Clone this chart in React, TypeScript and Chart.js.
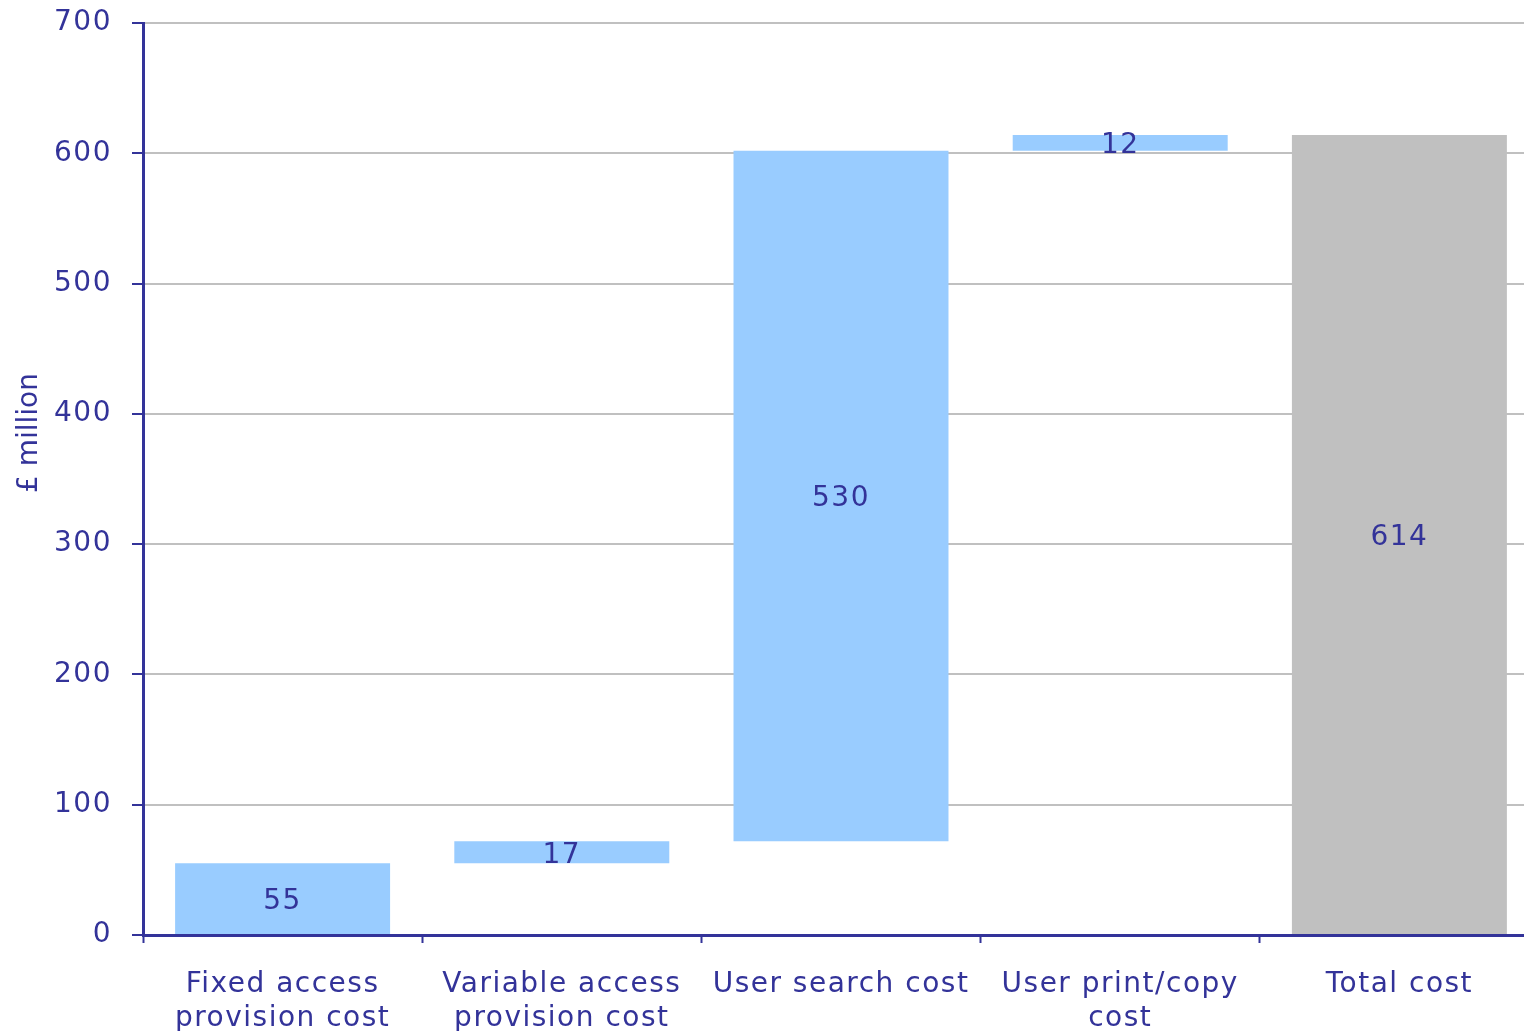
import React, { useEffect, useRef } from "react";
import { Chart, registerables } from "chart.js";

Chart.register(...registerables);

const categories: string[][] = [
  ["Fixed access", "provision cost"],
  ["Variable access", "provision cost"],
  ["User search cost"],
  ["User print/copy", "cost"],
  ["Total cost"],
];
const bases: number[] = [0, 55, 72, 602, 0];
const values: number[] = [55, 17, 530, 12, 614];
const barColors: string[] = ["#99CCFF", "#99CCFF", "#99CCFF", "#99CCFF", "#C0C0C0"];
const yTicks: number[] = [0, 100, 200, 300, 400, 500, 600, 700];
const yTitle = "£ million";

const TEXT = "#333399";
const FONT_FAMILY = '"DejaVu Sans", Verdana, sans-serif';
const LS = "1.5px";

const spacingPlugin = {
  id: "spacing",
  beforeUpdate(chart: any) {
    chart.ctx.letterSpacing = LS;
  },
  beforeLayout(chart: any) {
    chart.ctx.letterSpacing = LS;
  },
  beforeDraw(chart: any) {
    chart.ctx.letterSpacing = LS;
  },
};

const labelPlugin = {
  id: "valueLabels",
  afterDatasetsDraw(chart: any) {
    const ctx = chart.ctx;
    const meta = chart.getDatasetMeta(0);
    ctx.save();
    ctx.letterSpacing = LS;
    ctx.font = `28px ${FONT_FAMILY}`;
    ctx.fillStyle = TEXT;
    ctx.textAlign = "center";
    ctx.textBaseline = "middle";
    meta.data.forEach((el: any, i: number) => {
      const cy = (el.y + el.base) / 2 + 3;
      ctx.fillText(String(values[i]), el.x, cy);
    });
    ctx.restore();
    // y axis title
    ctx.save();
    ctx.letterSpacing = "0px";
    ctx.font = `28px ${FONT_FAMILY}`;
    ctx.fillStyle = TEXT;
    ctx.textAlign = "center";
    ctx.textBaseline = "middle";
    ctx.translate(30, 433);
    ctx.rotate(-Math.PI / 2);
    ctx.fillText(yTitle, 0, 0);
    ctx.restore();
  },
};

export default function App() {
  const ref = useRef<HTMLCanvasElement | null>(null);
  useEffect(() => {
    if (!ref.current) return;
    const chart = new Chart(ref.current, {
      type: "bar",
      data: {
        labels: categories,
        datasets: [
          {
            data: bases.map((b, i) => [b, b + values[i]]) as any,
            backgroundColor: barColors,
            borderWidth: 0,
            barPercentage: 0.77,
            categoryPercentage: 1,
          },
        ],
      },
      options: {
        animation: false,
        responsive: false,
        devicePixelRatio: 1,
        layout: { padding: { top: 23, right: 0, left: 0, bottom: 0 } },
        plugins: {
          legend: { display: false },
          tooltip: { enabled: false },
          title: { display: false },
        },
        scales: {
          x: {
            offset: true,
            afterFit(scale: any) {
              scale.height = 96;
              scale.paddingLeft = 0;
              scale.paddingRight = 0;
            },
            grid: {
              display: true,
              offset: true,
              drawOnChartArea: false,
              drawTicks: true,
              tickLength: 8,
              tickColor: TEXT,
              tickWidth: 2,
            },
            border: { display: true, color: TEXT, width: 3 },
            ticks: {
              color: TEXT,
              font: { family: FONT_FAMILY, size: 28, lineHeight: 1.2 },
              padding: 25,
              maxRotation: 0,
              autoSkip: false,
            },
          },
          y: {
            min: 0,
            max: 700,
            afterFit(scale: any) {
              scale.width = 143;
              scale.paddingTop = 0;
              scale.paddingBottom = 0;
            },
            afterBuildTicks(scale: any) {
              scale.ticks = yTicks.map((v) => ({ value: v }));
            },
            grid: {
              color: "#C0C0C0",
              lineWidth: 2,
              tickLength: 11,
              tickColor: TEXT,
              tickWidth: 2,
            },
            border: { display: true, color: TEXT, width: 3 },
            ticks: {
              color: TEXT,
              font: { family: FONT_FAMILY, size: 28 },
              padding: 20,
            },
            title: { display: false },
          },
        },
      },
      plugins: [spacingPlugin, labelPlugin],
    });
    return () => chart.destroy();
  }, []);
  return (
    <div
      style={{
        position: "absolute",
        left: 0,
        top: 0,
        width: 1524,
        height: 1031,
        overflow: "hidden",
        background: "#ffffff",
      }}
    >
      <canvas ref={ref} width={1539} height={1031} style={{ display: "block" }} />
    </div>
  );
}
